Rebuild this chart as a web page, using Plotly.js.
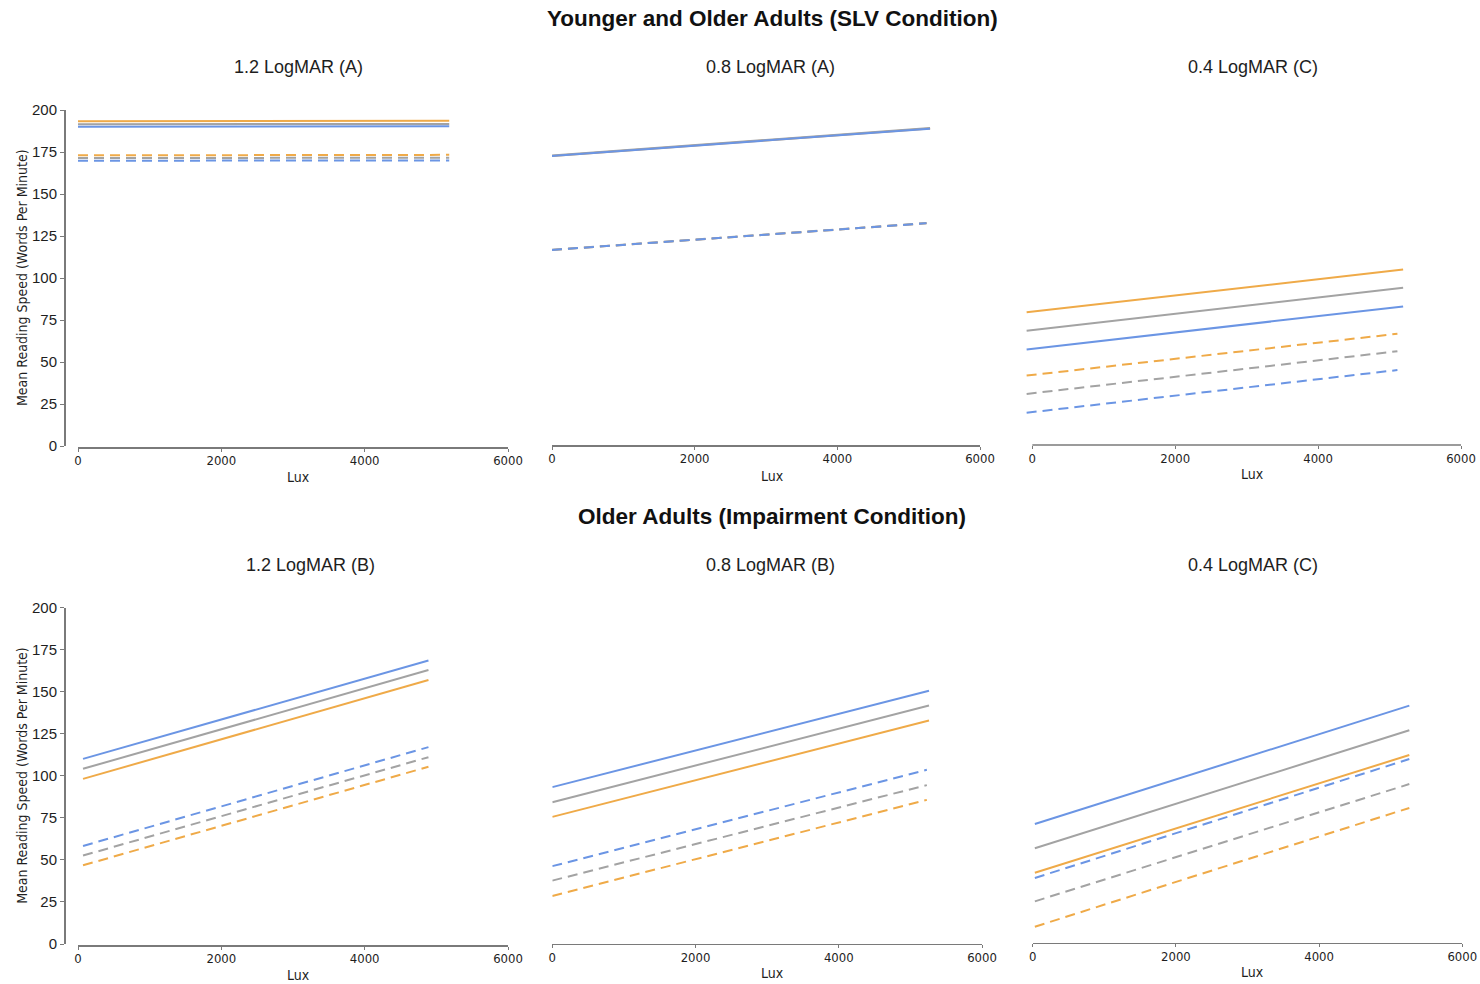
<!DOCTYPE html>
<html>
<head>
<meta charset="utf-8">
<script src="https://cdn.plot.ly/plotly-3.0.1.min.js"></script>
<style>html,body{margin:0;padding:0;background:#fff;}#chart{width:1480px;height:984px;}</style>
</head>
<body>
<div id="chart"></div>
<script>
// ---- Data (series order in each array: orange, gray, blue) ----
const groupTitles = ["Younger and Older Adults (SLV Condition)", "Older Adults (Impairment Condition)"];
const panelTitles = ["1.2 LogMAR (A)", "0.8 LogMAR (A)", "0.4 LogMAR (C)", "1.2 LogMAR (B)", "0.8 LogMAR (B)", "0.4 LogMAR (C)"];
const xTickVals = [0, 2000, 4000, 6000];
const yTickVals = [0, 25, 50, 75, 100, 125, 150, 175, 200];
const xTitle = "Lux";
const yTitle = "Mean Reading Speed (Words Per Minute)";

const p1LuxSolid = [0, 5180];
const p1LuxDashed = [0, 5180];
const p1Solid = [[193.3, 193.6], [191.5, 191.7], [190.1, 190.3]];
const p1Dashed = [[173.0, 173.3], [171.4, 171.6], [169.8, 170.0]];

const p2LuxSolid = [0, 5300];
const p2LuxDashed = [0, 5250];
const p2Solid = [[172.6, 189.0], [172.9, 189.3], [172.6, 188.9]];
const p2Dashed = [[116.7, 132.6], [116.8, 132.7], [116.7, 132.6]];

const p3LuxSolid = [-80, 5190];
const p3LuxDashed = [-80, 5110];
const p3Solid = [[79.6, 105.0], [68.6, 94.2], [57.5, 83.1]];
const p3Dashed = [[41.9, 66.8], [31.0, 56.4], [19.8, 45.2]];

const p4LuxSolid = [70, 4890];
const p4LuxDashed = [70, 4890];
const p4Solid = [[98.2, 157.0], [104.2, 162.9], [110.1, 168.6]];
const p4Dashed = [[46.8, 105.4], [52.6, 111.1], [58.3, 117.1]];

const p5LuxSolid = [0, 5260];
const p5LuxDashed = [0, 5230];
const p5Solid = [[75.3, 132.6], [84.0, 141.5], [93.0, 150.3]];
const p5Dashed = [[28.3, 85.4], [37.4, 94.2], [46.0, 103.3]];

const p6LuxSolid = [30, 5260];
const p6LuxDashed = [30, 5260];
const p6Solid = [[41.8, 111.9], [56.4, 126.6], [70.8, 141.3]];
const p6Dashed = [[9.7, 80.4], [24.8, 94.6], [38.7, 109.5]];

// ---- Styling ----
const W = 1480, H = 984;
const X = px => px / W;
const Y = py => 1 - py / H;
const seriesColors = ["#EFAA48", "#A3A3A3", "#6B95E4"];
const axisColor = "#7a7a7a";
const textColor = "#1e1e1e";
const baseFont = "Liberation Sans, Arial, Helvetica, sans-serif";
const narrowFont = "DejaVu Sans Condensed, Liberation Sans Narrow, Arial Narrow, Liberation Sans, sans-serif";

const panels = [
  {luxS: p1LuxSolid, luxD: p1LuxDashed, solid: p1Solid, dashed: p1Dashed, xd: [78, 508], xr: [0, 6000], xline: 447, ytop: 110, ybot: 446, yaxisVis: true, tx: 298, ty: 67, lx: 298, ly: 477},
  {luxS: p2LuxSolid, luxD: p2LuxDashed, solid: p2Solid, dashed: p2Dashed, xd: [552, 980], xr: [0, 6000], xline: 445, ytop: 110, ybot: 446, yaxisVis: false, tx: 771, ty: 67, lx: 772, ly: 476},
  {luxS: p3LuxSolid, luxD: p3LuxDashed, solid: p3Solid, dashed: p3Dashed, xd: [1025.2, 1461], xr: [-100, 6000], xline: 445, ytop: 110, ybot: 446, yaxisVis: false, tx: 1253, ty: 67, lx: 1252, ly: 474, customLine: true},
  {luxS: p4LuxSolid, luxD: p4LuxDashed, solid: p4Solid, dashed: p4Dashed, xd: [78, 508], xr: [0, 6000], xline: 945, ytop: 607.7, ybot: 944, yaxisVis: true, tx: 310, ty: 565, lx: 298, ly: 975},
  {luxS: p5LuxSolid, luxD: p5LuxDashed, solid: p5Solid, dashed: p5Dashed, xd: [552.3, 982], xr: [0, 6000], xline: 943.5, ytop: 607.2, ybot: 943.5, yaxisVis: false, tx: 771, ty: 565, lx: 772, ly: 973},
  {luxS: p6LuxSolid, luxD: p6LuxDashed, solid: p6Solid, dashed: p6Dashed, xd: [1032.7, 1462.3], xr: [0, 6000], xline: 942.5, ytop: 607, ybot: 943, yaxisVis: false, tx: 1253, ty: 565, lx: 1252, ly: 972}
];

const traces = [];
const layout = {
  width: W, height: H,
  margin: {l: 0, r: 0, t: 0, b: 0},
  paper_bgcolor: "#ffffff",
  plot_bgcolor: "rgba(0,0,0,0)",
  showlegend: false,
  font: {family: baseFont, color: textColor},
  annotations: [],
  shapes: []
};

panels.forEach((p, i) => {
  const n = i + 1;
  const xa = "x" + n, ya = "y" + n;
  const xKey = "xaxis" + (n === 1 ? "" : n);
  const yKey = "yaxis" + (n === 1 ? "" : n);
  [0, 1, 2].forEach(c => {
    traces.push({
      type: "scatter", mode: "lines", x: p.luxD, y: p.dashed[c], xaxis: xa, yaxis: ya,
      line: {color: seriesColors[c], width: 2, dash: "10px,6px"}, hoverinfo: "skip"
    });
  });
  [0, 1, 2].forEach(c => {
    traces.push({
      type: "scatter", mode: "lines", x: p.luxS, y: p.solid[c], xaxis: xa, yaxis: ya,
      line: {color: seriesColors[c], width: 2}, hoverinfo: "skip"
    });
  });

  layout[xKey] = {
    domain: [X(p.xd[0]), X(p.xd[1])],
    range: p.xr,
    anchor: "free",
    position: Y(p.xline),
    showline: !p.customLine,
    linecolor: axisColor, linewidth: 1.5,
    ticks: "outside", ticklen: 3, tickwidth: 1, tickcolor: axisColor,
    ticklabelstandoff: -2,
    tickvals: xTickVals, ticktext: xTickVals.map(String),
    tickfont: {family: narrowFont, size: 13, color: textColor},
    showgrid: false, zeroline: false, fixedrange: true
  };
  layout[yKey] = {
    domain: [Y(p.ybot), Y(p.ytop)],
    range: [0, 200],
    anchor: "free",
    position: X(64),
    visible: p.yaxisVis,
    showline: true, linecolor: axisColor, linewidth: 1.5,
    ticks: "outside", ticklen: 4, tickwidth: 1, tickcolor: axisColor,
    tickvals: yTickVals, ticktext: yTickVals.map(String),
    tickfont: {family: baseFont, size: 15, color: textColor},
    showgrid: false, zeroline: false, fixedrange: true
  };
  if (p.customLine) {
    layout.shapes.push({type: "line", xref: xa, yref: "paper", x0: 0, x1: 6000, y0: Y(p.xline), y1: Y(p.xline),
      line: {color: axisColor, width: 1.5}});
  }
  layout.annotations.push({text: panelTitles[i], xref: "paper", yref: "paper", x: X(p.tx), y: Y(p.ty),
    xanchor: "center", yanchor: "middle", showarrow: false, font: {family: baseFont, size: 18, color: textColor}});
  layout.annotations.push({text: xTitle, xref: "paper", yref: "paper", x: X(p.lx), y: Y(p.ly),
    xanchor: "center", yanchor: "middle", showarrow: false, font: {family: narrowFont, size: 14, color: textColor}});
  if (p.yaxisVis) {
    layout.annotations.push({text: yTitle, xref: "paper", yref: "paper", x: X(22), y: Y((p.ytop + p.ybot) / 2),
      xanchor: "center", yanchor: "middle", textangle: -90, showarrow: false, font: {family: narrowFont, size: 14, color: textColor}});
  }
});

layout.annotations.push({text: "<b>" + groupTitles[0] + "</b>", xref: "paper", yref: "paper", x: X(772), y: Y(18),
  xanchor: "center", yanchor: "middle", showarrow: false, font: {family: baseFont, size: 22.5, color: "#111"}});
layout.annotations.push({text: "<b>" + groupTitles[1] + "</b>", xref: "paper", yref: "paper", x: X(772), y: Y(516),
  xanchor: "center", yanchor: "middle", showarrow: false, font: {family: baseFont, size: 22.5, color: "#111"}});

Plotly.newPlot("chart", traces, layout, {displayModeBar: false, staticPlot: true});
</script>
</body>
</html>
